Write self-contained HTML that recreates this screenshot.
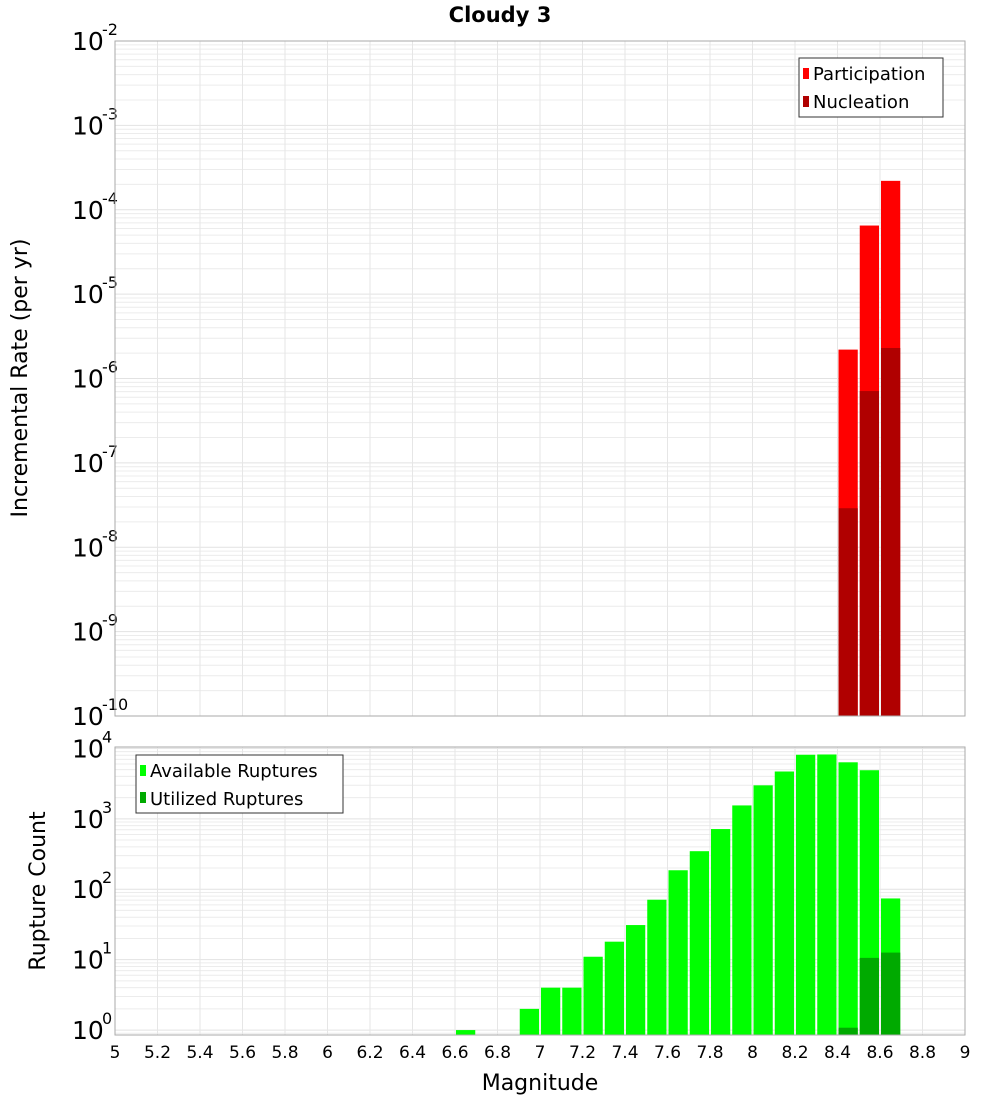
<!DOCTYPE html>
<html><head><meta charset="utf-8"><style>
body{margin:0;background:#fff;font-family:"Liberation Sans","DejaVu Sans",sans-serif}
svg text{font-family:"DejaVu Sans","Liberation Sans",sans-serif}
</style></head><body>
<svg id="chart" width="1000" height="1100" xmlns="http://www.w3.org/2000/svg">
<rect width="1000" height="1100" fill="#fff"/>
<text x="500" y="22" text-anchor="middle" font-size="21" font-weight="bold">Cloudy 3</text>
<g id="top"></g><g id="bot"></g>
<text transform="translate(27,378) rotate(-90)" text-anchor="middle" font-size="22">Incremental Rate (per yr)</text>
<text transform="translate(45,891) rotate(-90)" text-anchor="middle" font-size="22">Rupture Count</text>
<text x="540" y="1090" text-anchor="middle" font-size="22">Magnitude</text>
</svg>
<script>
const mags = [8.45, 8.55, 8.65];
const participation = [2.2e-6, 6.5e-5, 2.2e-4];
const nucleation = [2.9e-8, 7.1e-7, 2.3e-6];
const rupMags = [6.65,6.95,7.05,7.15,7.25,7.35,7.45,7.55,7.65,7.75,7.85,7.95,8.05,8.15,8.25,8.35,8.45,8.55,8.65];
const available = [1,2,4,4,11,18,31,71,186,347,716,1550,2990,4700,8130,8200,6350,4900,74];
const utilMags = [8.45,8.55,8.65];
const utilized = [1.08,10.6,12.6];
const xTicks = [5,5.2,5.4,5.6,5.8,6,6.2,6.4,6.6,6.8,7,7.2,7.4,7.6,7.8,8,8.2,8.4,8.6,8.8,9];
const topExps = [-10,-9,-8,-7,-6,-5,-4,-3,-2];
const botExps = [0,1,2,3,4];

const NS="http://www.w3.org/2000/svg";
const X0=115,X1=965;
const xs=m=>X0+(m-5)/4*(X1-X0);
function mk(p,tag,at){const e=document.createElementNS(NS,tag);for(const k in at)e.setAttribute(k,at[k]);p.appendChild(e);return e;}
function panel(g,top,bot,lmin,lmax,exps){
  const ys=v=>bot-(Math.log10(v)-lmin)/(lmax-lmin)*(bot-top);
  const grid=mk(g,'g',{});
  
  
  for(let d=Math.floor(lmin);d<=Math.ceil(lmax);d++)for(let k=1;k<10;k++){
    const v=k*Math.pow(10,d);const y=ys(v);if(y<top||y>bot)continue;
    mk(grid,'line',{x1:X0,x2:X1,y1:y,y2:y,stroke:k==1?'#e2e2e2':'#ececec','stroke-width':1});
  }
  xTicks.forEach(t=>{const x=xs(t);mk(grid,'line',{x1:x,x2:x,y1:top,y2:bot,stroke:'#e6e6e6','stroke-width':1});});
  exps.forEach(e=>{
    const y=ys(Math.pow(10,e));
    const t=mk(g,'text',{x:72,y:y+9,'font-size':25});
    
    
    t.textContent='10';
    const s=mk(g,'text',{x:102,y:y-6,'font-size':16});
    
    
    s.textContent=String(e);
  });
  return ys;
}
const tg=document.getElementById('top');
const ysT=panel(tg,41,716,-10,-2,topExps);
mags.forEach((m,i)=>{
  const x=xs(m-0.05)+1,w=xs(m+0.05)-xs(m-0.05)-2;
  const r=mk(tg,'rect',{x:x,y:ysT(participation[i]),width:w,height:716-ysT(participation[i]),fill:'#ff0000'});
  
  
  const n=mk(tg,'rect',{x:x,y:ysT(nucleation[i]),width:w,height:716-ysT(nucleation[i]),fill:'#b00000'});
  
  
});
mk(tg,'rect',{x:X0,y:41,width:X1-X0,height:675,fill:'none',stroke:'#aaa','stroke-width':1});
const lg=mk(tg,'g',{});


mk(lg,'rect',{x:799,y:58,width:144,height:59,fill:'#fff',stroke:'#333'});
mk(lg,'rect',{x:803,y:68,width:6,height:11,fill:'#ff0000'});
mk(lg,'rect',{x:803,y:96,width:6,height:11,fill:'#b00000'});
let t=mk(lg,'text',{x:813,y:80,'font-size':18});t.textContent='Participation';
t=mk(lg,'text',{x:813,y:108,'font-size':18});t.textContent='Nucleation';

const bg=document.getElementById('bot');
const ysB=panel(bg,747,1035,-0.07,4.02,botExps);
rupMags.forEach((m,i)=>{
  const x=xs(m-0.05)+1,w=xs(m+0.05)-xs(m-0.05)-2;
  const r=mk(bg,'rect',{x:x,y:ysB(available[i]),width:w,height:1035-ysB(available[i]),fill:'#00ff00'});
  
  
});
utilMags.forEach((m,i)=>{
  const x=xs(m-0.05)+1,w=xs(m+0.05)-xs(m-0.05)-2;
  const r=mk(bg,'rect',{x:x,y:ysB(utilized[i]),width:w,height:1035-ysB(utilized[i]),fill:'#00aa00'});
  
  
});
mk(bg,'rect',{x:X0,y:747,width:X1-X0,height:288,fill:'none',stroke:'#aaa','stroke-width':1});
const lb=mk(bg,'g',{});


mk(lb,'rect',{x:136,y:755,width:207,height:58,fill:'#fff',stroke:'#333'});
mk(lb,'rect',{x:140,y:765,width:6,height:11,fill:'#00ff00'});
mk(lb,'rect',{x:140,y:792,width:6,height:11,fill:'#00aa00'});
t=mk(lb,'text',{x:150,y:777,'font-size':18});t.textContent='Available Ruptures';
t=mk(lb,'text',{x:150,y:805,'font-size':18});t.textContent='Utilized Ruptures';

xTicks.forEach(v=>{
  const e=mk(bg,'text',{x:xs(v),y:1058,'font-size':17,'text-anchor':'middle'});
  
  
  e.textContent=String(v);
});
</script>
</body></html>
